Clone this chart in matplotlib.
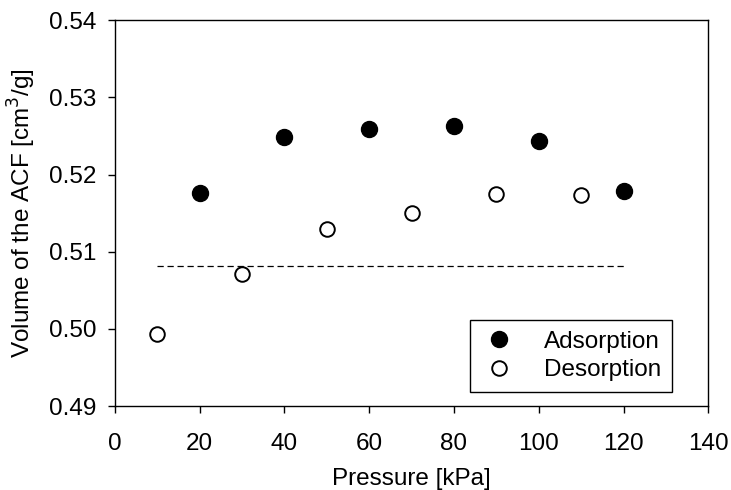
import matplotlib
matplotlib.use("Agg")
import matplotlib.pyplot as plt

plt.rcParams['font.family'] = ['Liberation Sans', 'DejaVu Sans']

ads_x = [20, 40, 60, 80, 100, 120]
ads_y = [0.5176, 0.5249, 0.5259, 0.5263, 0.5243, 0.5179]
des_x = [10, 30, 50, 70, 90, 110]
des_y = [0.4994, 0.5071, 0.5129, 0.5150, 0.5175, 0.5173]
mean_x = [10, 120]
mean_y = [0.5082, 0.5082]

FS = 17.5

fig = plt.figure(figsize=(7.31, 4.90), dpi=100)
ax = fig.add_axes([0.157, 0.171, 0.812, 0.788])

ax.plot(mean_x, mean_y, color='black', linestyle=(0, (5, 3)), linewidth=0.9)
ax.plot(ads_x, ads_y, 'o', color='black', markersize=11.5, label='Adsorption')
ax.plot(des_x, des_y, 'o', markerfacecolor='white', markeredgecolor='black',
        markeredgewidth=1.4, markersize=10.5, label='Desorption')

ax.set_xlim(0, 140)
ax.set_ylim(0.49, 0.54)
ax.set_xticks(range(0, 141, 20))
ax.set_yticks([0.49, 0.50, 0.51, 0.52, 0.53, 0.54])
ax.set_yticklabels(['0.49', '0.50', '0.51', '0.52', '0.53', '0.54'])
ax.tick_params(direction='out', length=5, width=1, labelsize=FS)
ax.tick_params(axis='x', top=False, pad=14)
ax.tick_params(axis='y', right=False, pad=8)
for s in ax.spines.values():
    s.set_linewidth(1.0)

ax.set_xlabel('Pressure [kPa]', fontsize=FS, labelpad=10)
ax.set_ylabel('Volume of the ACF [cm$^3$/g]', fontsize=FS, labelpad=8)

leg = ax.legend(loc='lower right', bbox_to_anchor=(0.939, 0.036), fontsize=FS,
                frameon=True, fancybox=False, edgecolor='black', framealpha=1,
                handletextpad=1.1, borderpad=0.45, labelspacing=0.28,
                handlelength=1.5, borderaxespad=0)
leg.get_frame().set_linewidth(1.0)

fig.savefig('out.png', dpi=100)
